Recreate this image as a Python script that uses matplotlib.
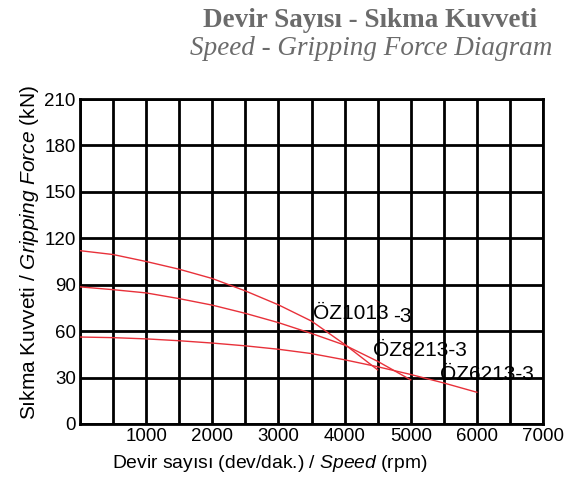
import matplotlib
matplotlib.use("Agg")
import matplotlib.pyplot as plt
import numpy as np

plt.rcParams['font.family'] = ['Liberation Sans', 'DejaVu Sans']
plt.rcParams['mathtext.fontset'] = 'custom'
plt.rcParams['mathtext.rm'] = 'Liberation Sans'
plt.rcParams['mathtext.it'] = 'Liberation Sans:italic'

# Data
rpm_1013 = [0, 500, 1000, 1500, 2000, 2500, 3000, 3500, 4000, 4500]
force_1013 = [112, 109.5, 105, 100, 94, 86, 77, 66.5, 51.5, 35]

rpm_8213 = [0, 500, 1000, 1500, 2000, 2500, 3000, 3500, 4000, 4500, 5000]
force_8213 = [88.6, 86.8, 84.7, 81, 76.8, 71.5, 65.5, 58.5, 51, 40.5, 28.5]

rpm_6213 = [0, 500, 1000, 1500, 2000, 2500, 3000, 3500, 4000, 4500, 5000, 5500, 6000]
force_6213 = [56.2, 55.8, 55, 53.8, 52.3, 50.5, 48.3, 45.5, 41.5, 37, 32, 26.5, 20.5]

series_names = ["ÖZ1013", "ÖZ8213", "ÖZ6213"]
suffix = "-3"

x_ticks = [1000, 2000, 3000, 4000, 5000, 6000, 7000]
y_ticks = [0, 30, 60, 90, 120, 150, 180, 210]

title_tr = "Devir Sayısı - Sıkma Kuvveti"
title_en = "Speed - Gripping Force Diagram"
xlabel = r"Devir sayısı (dev/dak.) / $\mathit{Speed}$ (rpm)"
ylabel = r"Sıkma Kuvveti / $\mathit{Gripping\ Force}$ (kN)"

W, H = 569, 483
fig = plt.figure(figsize=(W / 100, H / 100), dpi=100)
ax = fig.add_axes([80 / W, 1 - 424 / H, (543 - 80) / W, (424 - 99) / H])

ax.set_xlim(0, 7000)
ax.set_ylim(0, 210)
ax.set_xticks(x_ticks)
ax.set_xticks(np.arange(0, 7001, 500), minor=True)
ax.set_yticks(y_ticks)
ax.grid(True, which='both', color='black', linewidth=2.0)
ax.tick_params(which='both', length=0, labelsize=13.5, pad=3)
for s in ax.spines.values():
    s.set_linewidth(2.0)
    s.set_color('black')
ax.set_axisbelow(True)

red = '#e8313a'
for r, f in [(rpm_1013, force_1013), (rpm_8213, force_8213), (rpm_6213, force_6213)]:
    ax.plot(r, f, color=red, linewidth=1.0, zorder=3)

fs = 15
ax.text(3523, 68, series_names[0], fontsize=fs, va='baseline', ha='left', zorder=4)
ax.text(4740, 65.6, suffix, fontsize=fs, va='baseline', ha='left', zorder=4)
ax.text(4430, 44.2, series_names[1] + suffix, fontsize=fs, va='baseline', ha='left', zorder=4)
ax.text(5443, 28.6, series_names[2] + suffix, fontsize=fs, va='baseline', ha='left', zorder=4)

fig.text(370 / W, 1 - 27 / H, title_tr, fontsize=19.5, fontweight='bold',
         family='Liberation Serif', color='#6b6b6b', ha='center', va='baseline')
fig.text(371 / W, 1 - 55 / H, title_en, fontsize=19.5, style='italic',
         family='Liberation Serif', color='#6b6b6b', ha='center', va='baseline')

fig.text(270 / W, 1 - 464 / H, xlabel, fontsize=13.9, ha='center', va='center')
fig.text(30 / W, 1 - 253 / H, ylabel, fontsize=15, ha='center', va='center', rotation=90)

fig.savefig("out.png", dpi=100)
